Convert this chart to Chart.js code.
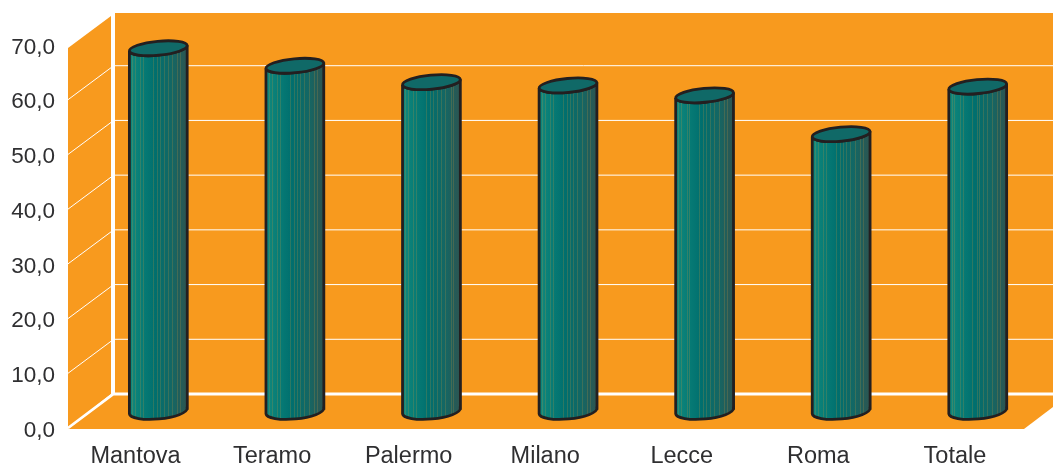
<!DOCTYPE html>
<html><head><meta charset="utf-8">
<style>html,body{margin:0;padding:0;background:#fff}canvas{display:block}</style>
<script src="https://cdn.jsdelivr.net/npm/chart.js@4/dist/chart.umd.min.js"></script>
</head><body><canvas id="c" width="1053" height="466"></canvas>
<script>
const categories = ["Mantova","Teramo","Palermo","Milano","Lecce","Roma","Totale"];
const values = [66.3,63.1,60.1,59.5,57.7,50.6,59.3];
const tickStep = 10;
const axisMax = 70;

const DX = 46, DY = 34, BAR_DX = 22, BAR_DY = 17;
const stripes = [.05,.10,.19,.24,.41,.48,.53,.59,.66,.74,.83,.88];

const scene = {
  id:'scene',
  beforeDraw(chart){
    // nudge the tick labels to sit where the reference has them
    chart.scales.y.getLabelItems().forEach(i=>{ if(!i._n){i._n=1;i.options.translation[1]+=2.5;} });
    chart.scales.x.getLabelItems().forEach(i=>{ if(!i._n){i._n=1;i.options.translation[0]-=0.8;} });
  },
  beforeDatasetsDraw(chart){
    const {ctx,scales:{x,y},chartArea:a} = chart;
    const y0=y.getPixelForValue(0), top=y.getPixelForValue(axisMax);
    const L=a.left, R=a.right, W=chart.width;
    ctx.save();
    ctx.fillStyle='#f89a1e';
    ctx.fillRect(L+DX,top-DY+2,W-L-DX,y0-top-2);
    ctx.beginPath();ctx.moveTo(L,top+3);ctx.lineTo(L+DX-3,top-DY+5);ctx.lineTo(L+DX-3,y0-DY);ctx.lineTo(L,y0);ctx.closePath();ctx.fill();
    ctx.beginPath();ctx.moveTo(L,y0+1);ctx.lineTo(R,y0+1);ctx.lineTo(W,y0-21);ctx.lineTo(W,y0-DY);ctx.lineTo(L+DX,y0-DY);ctx.closePath();ctx.fill();
    ctx.strokeStyle='#fff';
    for(let v=tickStep;v<axisMax;v+=tickStep){
      const p=y.getPixelForValue(v);
      ctx.lineWidth=1;
      ctx.beginPath();ctx.moveTo(L,p);ctx.lineTo(L+DX-3,p-DY+2);ctx.stroke();
      ctx.beginPath();ctx.moveTo(L+DX,p-DY);ctx.lineTo(W,p-DY);ctx.stroke();
    }
    ctx.lineWidth=2.8;
    ctx.beginPath();ctx.moveTo(L,y0);ctx.lineTo(L+DX-0.5,y0-DY);ctx.lineTo(W,y0-DY);ctx.stroke();
    ctx.lineWidth=3;
    ctx.beginPath();ctx.moveTo(L+DX-0.5,y0-DY);ctx.lineTo(L+DX-0.5,top-DY+2);ctx.stroke();
    ctx.restore();
  },
  afterDatasetsDraw(chart){
    const {ctx}=chart, meta=chart.getDatasetMeta(0);
    const tilt=-0.095, ry=7;
    meta.data.forEach(el=>{
      const cx=el.x+BAR_DX, rx=el.width/2;
      const ty=el.y-BAR_DY, by=el.base-BAR_DY;
      const dy=Math.sin(tilt)*rx;
      const body=()=>{
        ctx.beginPath();
        ctx.ellipse(cx,ty,rx,ry,tilt,Math.PI,0,true);
        ctx.lineTo(cx+rx,by+dy);
        ctx.ellipse(cx,by,rx,ry+1,tilt,0,Math.PI);
        ctx.closePath();
      };
      ctx.save();
      body();
      const g=ctx.createLinearGradient(cx-rx,0,cx+rx,0);
      g.addColorStop(0,'#128a7e');g.addColorStop(.15,'#0a8078');g.addColorStop(.45,'#006f6e');
      g.addColorStop(.75,'#156663');g.addColorStop(1,'#2e5450');
      ctx.fillStyle=g;ctx.fill();
      ctx.clip();
      ctx.lineWidth=1;
      stripes.forEach(s=>{
        const sx=Math.round(cx-rx+s*2*rx)+.5;
        ctx.strokeStyle='rgba(205,150,60,.22)';
        ctx.beginPath();ctx.moveTo(sx,ty-10);ctx.lineTo(sx,by+12);ctx.stroke();
      });
      ctx.restore();
      ctx.save();
      ctx.strokeStyle='#231f20';ctx.lineWidth=2.8;
      body();ctx.stroke();
      ctx.beginPath();ctx.ellipse(cx,ty,rx,ry,tilt,0,Math.PI*2);
      ctx.fillStyle='#106967';ctx.fill();ctx.stroke();
      ctx.restore();
    });
  }
};

new Chart(document.getElementById('c'),{
  type:'bar',
  data:{labels:categories,datasets:[{data:values,backgroundColor:'rgba(0,0,0,0)',borderWidth:0,barPercentage:.425,categoryPercentage:1}]},
  options:{
    responsive:false,animation:false,
    layout:{padding:{top:45,right:29,left:0,bottom:0}},
    plugins:{legend:{display:false},tooltip:{enabled:false}},
    scales:{
      x:{grid:{display:false},border:{display:false},
         afterFit(s){s.height=38;},
         ticks:{maxRotation:0,autoSkip:false,padding:6,color:'#2f2f31',font:{family:'"Liberation Sans",Arial,sans-serif',size:23.5}}},
      y:{min:0,max:axisMax,grid:{display:false},border:{display:false},
         afterFit(s){s.width=68;},
         ticks:{stepSize:tickStep,padding:5,color:'#2f2f31',font:{family:'"Liberation Sans",Arial,sans-serif',size:22.5},
                callback:v=>v.toFixed(1).replace('.',',')}}
    }
  },
  plugins:[scene]
});
</script></body></html>
